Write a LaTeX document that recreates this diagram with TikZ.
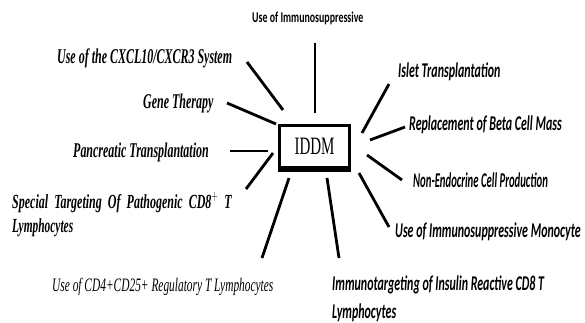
\documentclass[tikz,border=0pt]{standalone}
\usepackage{fontspec}
\usepackage{graphicx}
\setmainfont{Liberation Serif}
\newfontfamily\calib{Carlito}
\newcommand{\squeeze}[1]{\scalebox{0.6}[1]{#1}}

\begin{document}
\begin{tikzpicture}[x=1pt, y=-1pt,
  spoke/.style={line width=2.8pt},
  serlbl/.style={anchor=base west, inner sep=0pt, font=\fontsize{21}{26}\selectfont\itshape},
  serbold/.style={anchor=base west, inner sep=0pt, font=\fontsize{21}{26}\selectfont\bfseries\itshape},
  callbl/.style={anchor=base west, inner sep=0pt, font=\calib\fontsize{21}{26}\selectfont\bfseries\itshape}]
  \useasboundingbox (0,0) rectangle (585,322);

  % Centre box
  \node[draw, line width=3pt, minimum width=70pt, minimum height=42pt, inner sep=0pt,
        font=\fontsize{25}{30}\selectfont] (iddm) at (314.5,146.5) {\squeeze{IDDM}};
  \draw[line width=4.5pt] ([yshift=-0.8pt]iddm.south west) -- ([yshift=-0.8pt]iddm.south east);

  % Labels (left, serif)
  \node[serbold] (cxcl) at (57,63) {\scalebox{0.57}[1]{Use of the CXCL10/CXCR3 System}};
  \node[serbold] (gene) at (143,108) {\scalebox{0.57}[1]{Gene Therapy}};
  \node[serbold] (panc) at (73,157) {\scalebox{0.57}[1]{Pancreatic Transplantation}};
  \node[serbold, font=\fontsize{20}{24}\selectfont\bfseries\itshape] (cdeight) at (12,208)
    {\squeeze{\makebox[366pt][s]{Special Targeting Of Pathogenic CD8$^{+}$ T}}};
  \node[serbold, font=\fontsize{20}{24}\selectfont\bfseries\itshape] (cdeightb) at (12,232) {\scalebox{0.57}[1]{Lymphocytes}};
  \node[serlbl, font=\fontsize{19}{24}\selectfont\itshape] (treg) at (52,291) {\squeeze{Use of CD4+CD25+ Regulatory T Lymphocytes}};

  % Labels (top and right, sans)
  \node[anchor=base west, inner sep=0pt, font=\calib\fontsize{15}{18}\selectfont\bfseries] (immsup) at (252,22)
    {\scalebox{0.66}[1]{Use of Immunosuppressive}};
  \node[callbl] (islet) at (398,77) {\scalebox{0.57}[1]{Islet Transplantation}};
  \node[callbl] (beta) at (409,130) {\scalebox{0.57}[1]{Replacement of Beta Cell Mass}};
  \node[callbl] (nonendo) at (413,187) {\scalebox{0.51}[1]{Non-Endocrine Cell Production}};
  \node[callbl] (mono) at (395,237) {\scalebox{0.57}[1]{Use of Immunosuppressive Monocyte}};
  \node[callbl] (insulin) at (332,290) {\scalebox{0.57}[1]{Immunotargeting of Insulin Reactive CD8 T}};
  \node[callbl] (insulinb) at (332,318) {\scalebox{0.57}[1]{Lymphocytes}};

  % Spoke ends
  \coordinate (immsup-a) at (315,43);  \coordinate (immsup-b) at (315,113);
  \coordinate (cxcl-a) at (247,62);    \coordinate (cxcl-b) at (283,110);
  \coordinate (gene-a) at (227,103);   \coordinate (gene-b) at (276,124);
  \coordinate (panc-a) at (230,151);   \coordinate (panc-b) at (268,151);
  \coordinate (cdeight-a) at (246,189); \coordinate (cdeight-b) at (273,153);
  \coordinate (treg-a) at (262,258);   \coordinate (treg-b) at (289,178);
  \coordinate (insulin-a) at (339,258); \coordinate (insulin-b) at (327,178);
  \coordinate (mono-a) at (389,227);   \coordinate (mono-b) at (359,173);
  \coordinate (nonendo-a) at (402,180); \coordinate (nonendo-b) at (367,155);
  \coordinate (beta-a) at (405,127);   \coordinate (beta-b) at (370,140);
  \coordinate (islet-a) at (389,84);   \coordinate (islet-b) at (362,133);

  % Spokes
  \foreach \s in {immsup, cxcl, gene, panc, cdeight, treg, insulin, mono, nonendo, beta, islet}
    \draw[spoke] (\s-a) -- (\s-b);
\end{tikzpicture}
\end{document}
